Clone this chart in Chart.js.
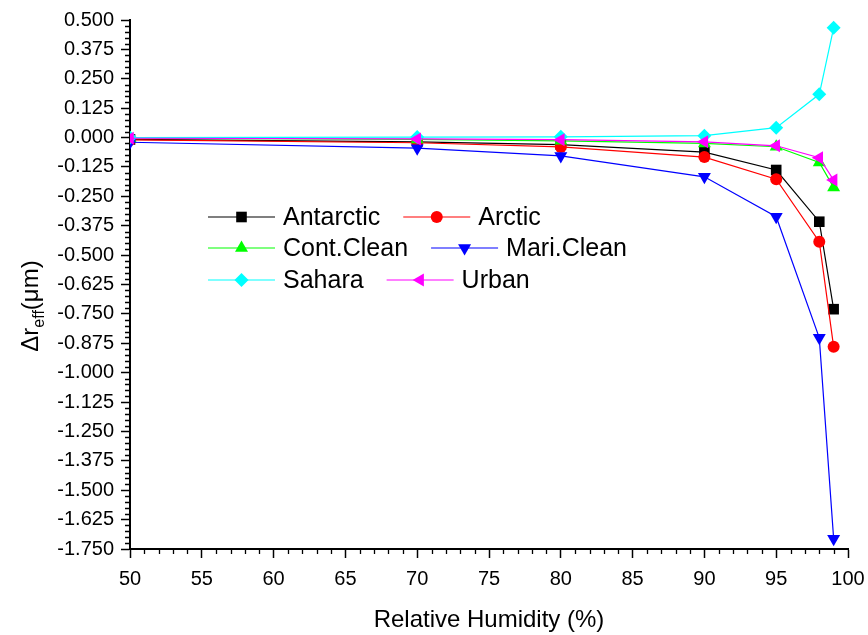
<!DOCTYPE html>
<html>
<head>
<meta charset="utf-8">
<script src="https://cdn.jsdelivr.net/npm/chart.js@4.4.1/dist/chart.umd.min.js"></script>
<style>
  html, body { margin: 0; padding: 0; background: #fff; }
  #wrap { width: 868px; height: 635px; position: relative; }
</style>
</head>
<body>
<div id="wrap"><canvas id="chart_rhEffRadius"></canvas></div>
<script>
// relative humidity (%)
var humidity = [50, 70, 80, 90, 95, 98, 99];

// change of effective radius (um) per aerosol type
var antarctic  = [-0.008, -0.018, -0.030, -0.062, -0.138, -0.358, -0.730];
var arctic     = [-0.010, -0.022, -0.040, -0.083, -0.177, -0.443, -0.890];
var contClean  = [-0.003, -0.008, -0.014, -0.025, -0.039, -0.106, -0.212];
var mariClean  = [-0.020, -0.045, -0.078, -0.167, -0.337, -0.852, -1.706];
var sahara     = [0.000, 0.002, 0.003, 0.008, 0.042, 0.184, 0.467];
var urban      = [-0.003, -0.006, -0.009, -0.018, -0.035, -0.086, -0.181];

var seriesNames = ['Antarctic', 'Arctic', 'Cont.Clean', 'Mari.Clean', 'Sahara', 'Urban'];

var FONT = "'Liberation Sans', Arial, Helvetica, sans-serif";

function pts(ys) {
  return humidity.map(function (x, i) { return { x: x, y: ys[i] }; });
}

function makeSet(label, ys, color, style, radius, rotation, order) {
  return {
    label: label,
    data: pts(ys),
    borderColor: color,
    backgroundColor: color,
    borderWidth: 1.2,
    pointStyle: style,
    pointRadius: radius,
    pointRotation: rotation,
    pointBorderWidth: 0,
    pointBackgroundColor: color,
    tension: 0,
    order: order
  };
}

var datasets = [
  makeSet(seriesNames[0], antarctic, '#000000', 'rect', 7.5, 0, 5),
  makeSet(seriesNames[1], arctic, '#ff0000', 'circle', 6, 0, 4),
  makeSet(seriesNames[2], contClean, '#00ff00', 'triangle', 7.5, 0, 3),
  makeSet(seriesNames[3], mariClean, '#0000ff', 'triangle', 7.5, 180, 2),
  makeSet(seriesNames[4], sahara, '#00ffff', 'rectRot', 7, 0, 1),
  makeSet(seriesNames[5], urban, '#ff00ff', 'triangle', 7.5, -90, 0)
];

var extrasPlugin = {
  id: 'extras',
  beforeDraw: function (chart) {
    var ctx = chart.ctx;
    ctx.save();
    ctx.fillStyle = 'white';
    ctx.fillRect(0, 0, chart.width, chart.height);
    ctx.restore();
  },
  afterDraw: function (chart) {
    var ctx = chart.ctx;
    var xs = chart.scales.x, ys = chart.scales.y;
    var area = chart.chartArea;
    ctx.save();
    // minor ticks
    ctx.strokeStyle = '#000';
    ctx.lineWidth = 1.3;
    ctx.beginPath();
    for (var v = 51; v < 100; v++) {
      if (v % 5 === 0) continue;
      var px = Math.round(xs.getPixelForValue(v)) + 0.5;
      ctx.moveTo(px, area.bottom);
      ctx.lineTo(px, area.bottom + 5);
    }
    for (var k = -70; k <= 20; k++) {
      if (k % 5 === 0) continue;
      var py = Math.round(ys.getPixelForValue(k * 0.025)) + 0.5;
      ctx.moveTo(area.left - 5, py);
      ctx.lineTo(area.left, py);
    }
    ctx.stroke();

    // y axis title with subscript
    ctx.fillStyle = '#000';
    ctx.translate(38, 306);
    ctx.rotate(-Math.PI / 2);
    ctx.textBaseline = 'alphabetic';
    var big = '24px ' + FONT, small = '16px ' + FONT;
    var parts = [['\u0394r', big, 0], ['eff', small, 6], ['(\u03bcm)', big, 0]];
    var total = 0;
    parts.forEach(function (p) { ctx.font = p[1]; total += ctx.measureText(p[0]).width; });
    var cx = -total / 2;
    parts.forEach(function (p) {
      ctx.font = p[1];
      ctx.fillText(p[0], cx, p[2]);
      cx += ctx.measureText(p[0]).width;
    });
    ctx.restore();

    // legend inside plot
    ctx.save();
    var rows = [[0, 1], [2, 3], [4, 5]];
    var rowY = [217, 248, 280];
    ctx.font = '25px ' + FONT;
    ctx.textBaseline = 'middle';
    rows.forEach(function (row, r) {
      var x = 208;
      var y = rowY[r];
      row.forEach(function (di) {
        var ds = chart.data.datasets[di];
        ctx.strokeStyle = ds.borderColor;
        ctx.lineWidth = 1.2;
        ctx.beginPath();
        ctx.moveTo(x, y);
        ctx.lineTo(x + 67, y);
        ctx.stroke();
        ctx.fillStyle = ds.backgroundColor;
        Chart.helpers.drawPoint(ctx, {
          pointStyle: ds.pointStyle,
          radius: ds.pointRadius,
          rotation: ds.pointRotation,
          borderWidth: 0
        }, x + 33.5, y);
        ctx.fillStyle = '#000';
        ctx.fillText(ds.label, x + 75, y + 1);
        x += 75 + ctx.measureText(ds.label).width + 23;
      });
    });
    ctx.restore();
  }
};

var chart_rhEffRadius = new Chart(document.getElementById('chart_rhEffRadius'), {
  type: 'line',
  data: { datasets: datasets },
  options: {
    animation: false,
    responsive: true,
    maintainAspectRatio: false,
    layout: { padding: { left: 0, right: 20, top: 20, bottom: 0 } },
    plugins: {
      legend: { display: false },
      tooltip: { enabled: false }
    },
    scales: {
      x: {
        type: 'linear',
        min: 50,
        max: 100,
        afterFit: function (scale) {
          scale.height = 86;
          scale.paddingLeft = 0;
          scale.paddingRight = 0;
        },
        border: { display: true, color: '#000', width: 2 },
        grid: { drawOnChartArea: false, drawTicks: true, tickLength: 9, color: '#000', tickWidth: 1.5 },
        ticks: {
          stepSize: 5,
          maxRotation: 0,
          color: '#000',
          padding: 9,
          font: { family: FONT, size: 20 }
        },
        title: {
          display: true,
          text: 'Relative Humidity (%)',
          color: '#000',
          font: { family: FONT, size: 24 },
          padding: { top: 0, bottom: 0 }
        }
      },
      y: {
        type: 'linear',
        min: -1.75,
        max: 0.5,
        afterFit: function (scale) { scale.width = 130; },
        border: { display: true, color: '#000', width: 2 },
        grid: { drawOnChartArea: false, drawTicks: true, tickLength: 9, color: '#000', tickWidth: 1.5 },
        ticks: {
          stepSize: 0.125,
          color: '#000',
          padding: 7,
          font: { family: FONT, size: 20 },
          callback: function (v) { return v.toFixed(3); }
        }
      }
    }
  },
  plugins: [extrasPlugin]
});
</script>
</body>
</html>
